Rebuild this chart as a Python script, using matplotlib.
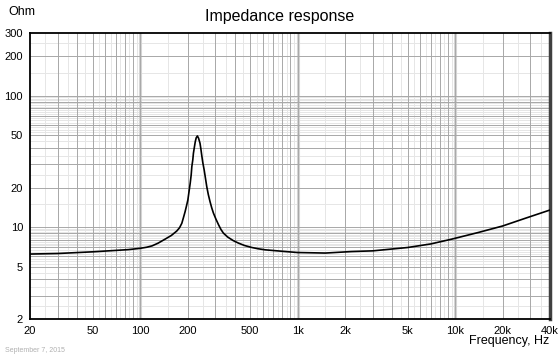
import matplotlib.pyplot as plt
import numpy as np

plt.rcParams['font.family'] = ['Liberation Sans', 'DejaVu Sans']

freq = [20, 30, 50, 70, 85, 100, 110, 119, 130, 144, 158, 171, 178, 184, 188,
        193, 197, 201, 204, 208, 211, 213, 216, 218, 221, 224, 227, 231, 235,
        240, 243, 246, 250, 255, 260, 265, 271, 278, 285, 292, 303, 315, 326,
        338, 360, 390, 421, 460, 512, 560, 622, 800, 1000, 1500, 2200, 3000,
        5000, 7000, 9500, 14000, 20000, 28000, 40000]
impedance = [6.24, 6.3, 6.49, 6.65, 6.75, 6.9, 7.03, 7.2, 7.55, 8.1, 8.65, 9.35,
             9.9, 10.7, 11.7, 13.1, 14.5, 16.1, 18.3, 21.6, 25.0, 28.9, 32.5,
             36.5, 40.5, 44.7, 47.8, 49.4, 47.5, 43.5, 39.5, 35.4, 31.0, 27.3,
             23.5, 20.3, 17.7, 15.6, 14.0, 12.8, 11.5, 10.4, 9.6, 9.0, 8.4, 7.9,
             7.56, 7.25, 7.0, 6.85, 6.72, 6.55, 6.41, 6.35, 6.52, 6.6, 7.0, 7.45,
             8.1, 9.1, 10.2, 11.7, 13.5]

x_ticks = [20, 50, 100, 200, 500, 1000, 2000, 5000, 10000, 20000, 40000]
x_labels = ["20", "50", "100", "200", "500", "1k", "2k", "5k", "10k", "20k", "40k"]
y_ticks = [2, 5, 10, 20, 50, 100, 200, 300]
y_labels = ["2", "5", "10", "20", "50", "100", "200", "300"]

fig = plt.figure(figsize=(5.59, 3.56), dpi=100)
ax = fig.add_axes([30 / 559, 37 / 356, 520 / 559, 286 / 356])
ax.set_xscale("log")
ax.set_yscale("log")
ax.set_xlim(20, 40000)
ax.set_ylim(2, 300)

# grid: light half steps, darker integer steps, wide light bands at decades
for k in [10, 100, 1000, 10000]:
    for n in np.arange(1.5, 10, 1.0):
        if 20 < n * k < 40000:
            ax.axvline(n * k, color='#e6e6e6', lw=0.7, zorder=0)
    for n in range(1, 10):
        if 20 < n * k < 40000:
            ax.axvline(n * k, color='#a8a8a8', lw=0.7, zorder=1)
    if 20 < k < 40000:
        ax.axvline(k, color='#d4d4d4', lw=2.2, zorder=0.5)

for k in [1, 10, 100]:
    minor = list(np.arange(1.5, 5, 1.0)) + list(np.arange(5.25, 10, 0.25))
    for n in minor:
        if 2 < n * k < 300:
            ax.axhline(n * k, color='#e6e6e6', lw=0.7, zorder=0)
    for n in range(1, 10):
        if 2 < n * k < 300:
            ax.axhline(n * k, color='#a8a8a8', lw=0.7, zorder=1)

ax.plot(freq, impedance, color='black', lw=1.2, zorder=3)

ax.minorticks_off()
ax.set_xticks(x_ticks)
ax.set_xticklabels(x_labels)
ax.set_yticks(y_ticks)
ax.set_yticklabels(y_labels)
ax.tick_params(length=0, labelsize=8, pad=5, colors='black')

for s in ['left', 'bottom', 'top']:
    ax.spines[s].set_color('black')
    ax.spines[s].set_linewidth(1.3)
ax.spines['right'].set_color('#404040')
ax.spines['right'].set_linewidth(2.5)

fig.text(0.5, 1 - 17 / 356, "Impedance response", ha='center', va='center', fontsize=11.5)
fig.text(8 / 559, 1 - 12 / 356, "Ohm", ha='left', va='center', fontsize=9)
fig.text(549 / 559, 1 - 341 / 356, "Frequency, Hz", ha='right', va='center', fontsize=9)
fig.text(5 / 559, 1 - 350 / 356, "September 7, 2015", ha='left', va='center',
         fontsize=5, color='#b0b0b0')

plt.savefig("out.png", dpi=100)
